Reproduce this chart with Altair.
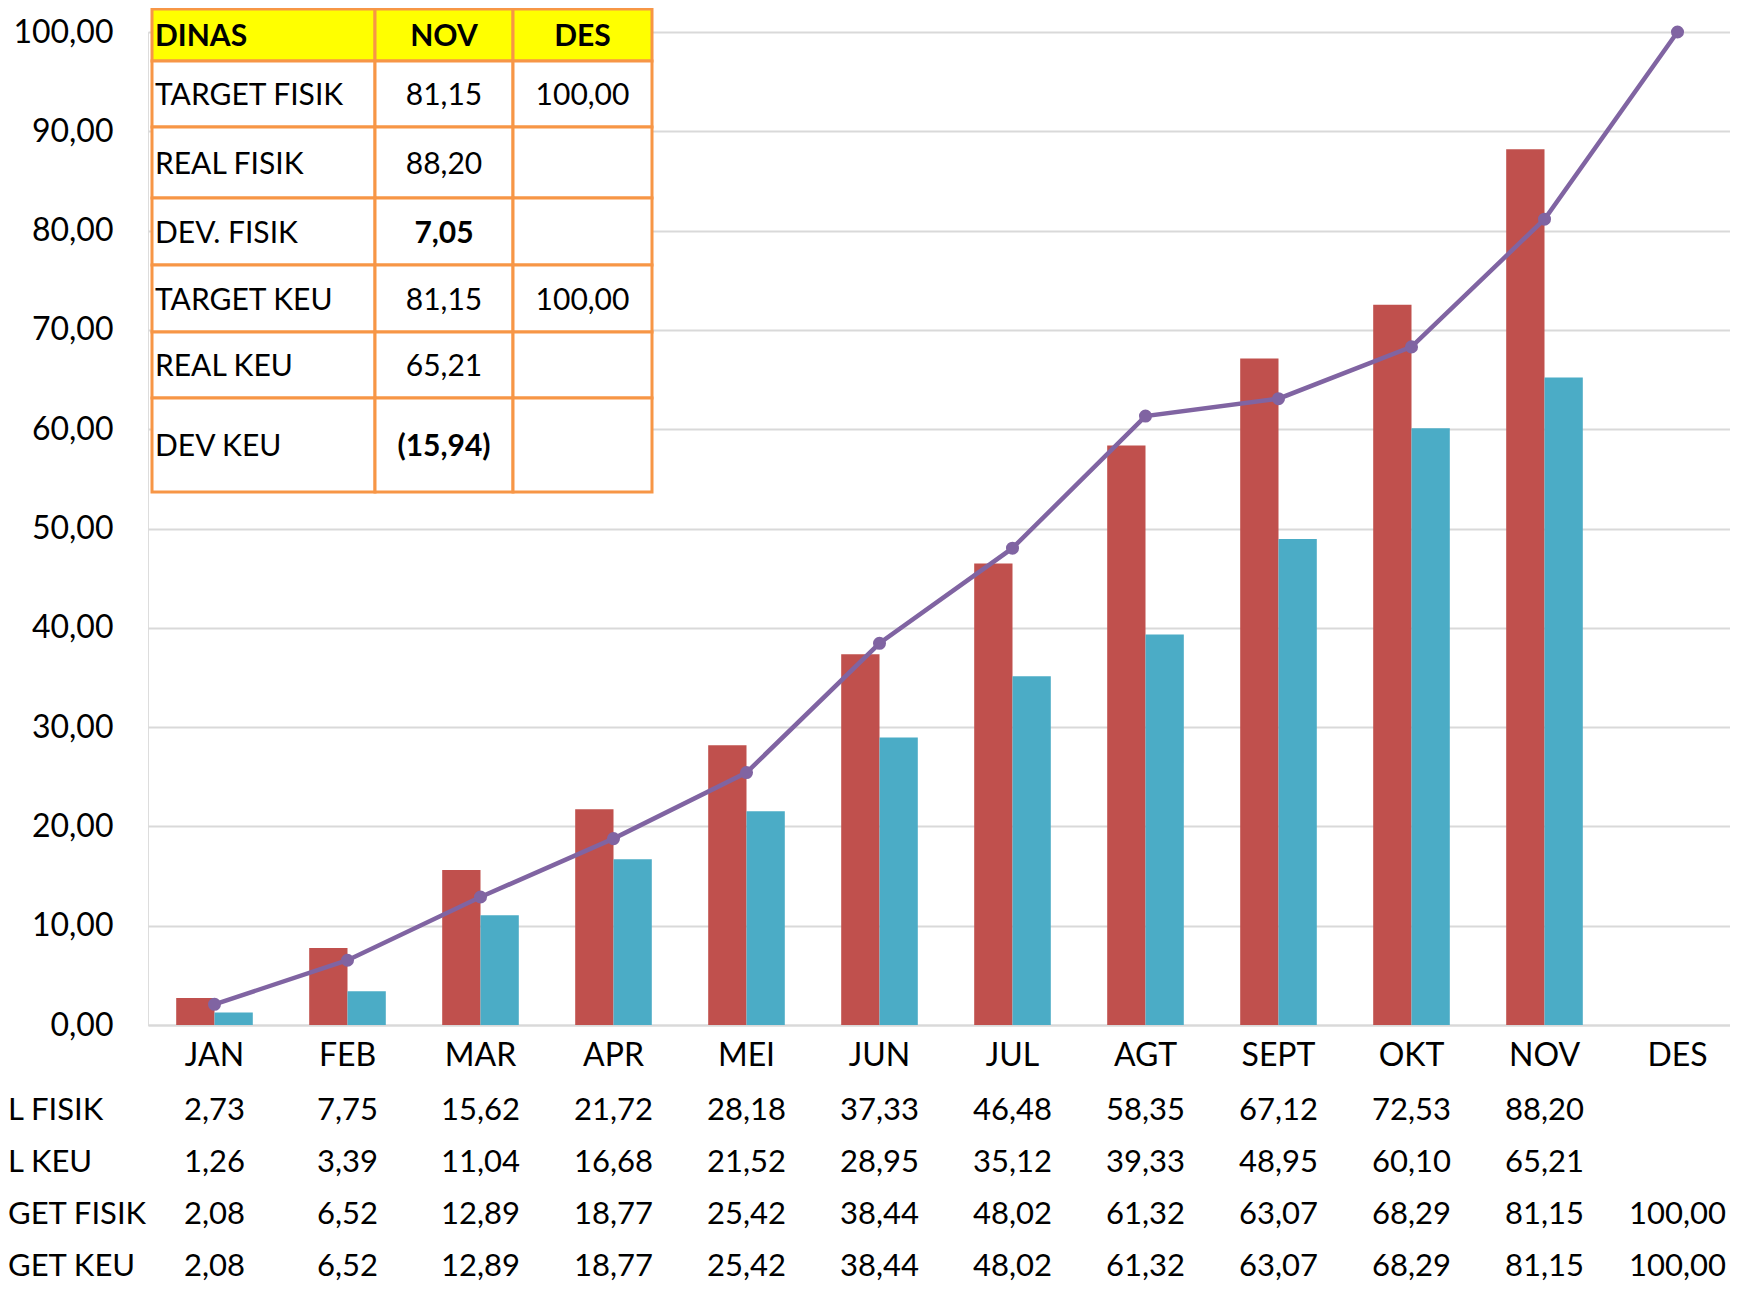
import altair as alt
import pandas as pd

months = ["JAN", "FEB", "MAR", "APR", "MEI", "JUN", "JUL", "AGT", "SEPT", "OKT", "NOV", "DES"]
real_fisik = [2.73, 7.75, 15.62, 21.72, 28.18, 37.33, 46.48, 58.35, 67.12, 72.53, 88.20, None]
real_keu = [1.26, 3.39, 11.04, 16.68, 21.52, 28.95, 35.12, 39.33, 48.95, 60.10, 65.21, None]
target_fisik = [2.08, 6.52, 12.89, 18.77, 25.42, 38.44, 48.02, 61.32, 63.07, 68.29, 81.15, 100.00]
target_keu = [2.08, 6.52, 12.89, 18.77, 25.42, 38.44, 48.02, 61.32, 63.07, 68.29, 81.15, 100.00]

row_labels = ["L FISIK", "L KEU", "GET FISIK", "GET KEU"]

table_header = ["DINAS", "NOV", "DES"]
table_rows = [
    ["TARGET FISIK", "81,15", "100,00"],
    ["REAL FISIK", "88,20", ""],
    ["DEV. FISIK", "7,05", ""],
    ["TARGET KEU", "81,15", "100,00"],
    ["REAL KEU", "65,21", ""],
    ["DEV KEU", "(15,94)", ""],
]
bold_cells = {"7,05", "(15,94)"}

RED = "#c0504d"
BLUE = "#4bacc6"
PURPLE = "#8064a2"
ORANGE = "#f79646"
FONT = "Lato"

W, H = 1582, 993
XR = 1596


def fmt(v):
    return "" if v is None else f"{v:.2f}".replace(".", ",")


bars_df = pd.DataFrame(
    [{"month": m, "series": "REAL FISIK", "value": v} for m, v in zip(months, real_fisik) if v is not None]
    + [{"month": m, "series": "REAL KEU", "value": v} for m, v in zip(months, real_keu) if v is not None]
)
line_df = pd.DataFrame({"month": months, "value": target_fisik})

xscale = alt.Scale(domain=months, paddingInner=0.424, paddingOuter=0.212, range=[0, XR])
yscale = alt.Scale(domain=[0, 100], nice=False)

x_enc = alt.X(
    "month:N", sort=months, scale=xscale,
    axis=alt.Axis(title=None, labelAngle=0, ticks=False, domainColor="#d9d9d9", domainWidth=2,
                  labelFont=FONT, labelFontSize=32, labelColor="black", labelPadding=15),
)
y_enc = alt.Y(
    "value:Q", scale=yscale,
    axis=alt.Axis(title=None, values=list(range(0, 101, 10)),
                  labelExpr="replace(format(datum.value, '.2f'), '.', ',')",
                  grid=True, gridColor="#d9d9d9", gridWidth=2, domain=False, ticks=False,
                  labelFont=FONT, labelFontSize=32, labelColor="black", labelPadding=35),
)

bars = alt.Chart(bars_df).mark_bar().encode(
    x=x_enc,
    y=y_enc,
    xOffset=alt.XOffset("series:N", sort=["REAL FISIK", "REAL KEU"], scale=alt.Scale(paddingInner=0, paddingOuter=0)),
    color=alt.Color("series:N", scale=alt.Scale(domain=["REAL FISIK", "REAL KEU"], range=[RED, BLUE]), legend=None),
)

line = alt.Chart(line_df).mark_line(color=PURPLE, strokeWidth=4.5).encode(
    x=alt.X("month:N", sort=months), y="value:Q"
)
pts = alt.Chart(line_df).mark_point(color=PURPLE, filled=True, size=170, opacity=1).encode(
    x=alt.X("month:N", sort=months), y="value:Q"
)

layers = [bars, line, pts]

# inset table (annotation)
col_edges = [4, 227, 365, 504]
row_edges = [-23, 29, 95, 166, 233, 300, 366, 460]
one = alt.Data(values=[{"a": 1}])
all_rows = [table_header] + table_rows
for ri, row in enumerate(all_rows):
    y0, y1 = row_edges[ri], row_edges[ri + 1]
    for ci, txt in enumerate(row):
        x0, x1 = col_edges[ci], col_edges[ci + 1]
        fill = "#ffff00" if ri == 0 else "white"
        layers.append(
            alt.Chart(one).mark_rect(fill=fill, stroke=ORANGE, strokeWidth=3).encode(
                x=alt.value(x0), x2=alt.value(x1), y=alt.value(y0), y2=alt.value(y1)
            )
        )
for ri, row in enumerate(all_rows):
    y0, y1 = row_edges[ri], row_edges[ri + 1]
    for ci, txt in enumerate(row):
        if not txt:
            continue
        x0, x1 = col_edges[ci], col_edges[ci + 1]
        bold = ri == 0 or txt in bold_cells
        if ci == 0:
            align, xp = "left", x0 + 3
        else:
            align, xp = "center", (x0 + x1) / 2
        layers.append(
            alt.Chart(one).mark_text(
                text=txt, align=align, baseline="middle", font=FONT, fontSize=30,
                fontWeight="bold" if bold else "normal", color="black",
            ).encode(x=alt.value(xp), y=alt.value((y0 + y1) / 2 + 2))
        )

# bottom data rows
row_series = [real_fisik, real_keu, target_fisik, target_keu]
row_offsets = [86, 138, 190, 242]
for lbl, ser, off in zip(row_labels, row_series, row_offsets):
    df = pd.DataFrame({"month": months, "label": [fmt(v) for v in ser]})
    layers.append(
        alt.Chart(df).mark_text(baseline="middle", align="center", font=FONT, fontSize=31, color="black").encode(
            x=alt.X("month:N", sort=months), y=alt.value(H + off), text="label:N"
        )
    )
    layers.append(
        alt.Chart(one).mark_text(text=lbl, align="left", baseline="middle", font=FONT, fontSize=31, color="black").encode(
            x=alt.value(-140), y=alt.value(H + off)
        )
    )

chart = alt.layer(*layers).properties(
    width=W, height=H,
    padding={"left": 140, "top": 24, "right": 0, "bottom": 257},
    autosize=alt.AutoSizeParams(type="none"),
).configure_view(stroke=None).configure(background="white")

chart.save("out.html", embed_options={"renderer": "svg", "actions": False})
